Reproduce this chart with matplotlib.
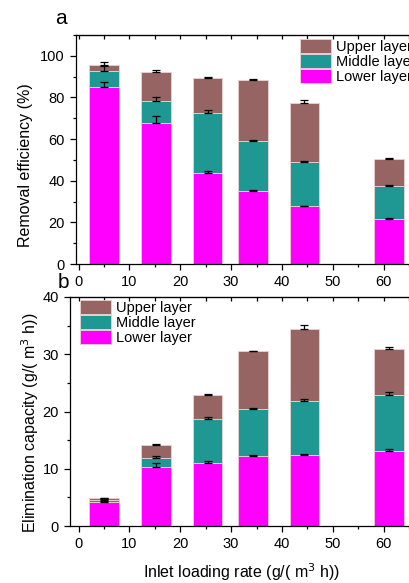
import numpy as np
import matplotlib
matplotlib.use("Agg")
import matplotlib.pyplot as plt
from matplotlib.ticker import MultipleLocator

plt.rcParams['font.family'] = ['Liberation Sans', 'DejaVu Sans']

# inlet loading rate, g/(m3 h)
loading = [5.0, 15.2, 25.4, 34.3, 44.4, 61.1]
layers = ["Upper layer", "Middle layer", "Lower layer"]

# removal efficiency contribution of each layer (%)
re_lower = [84.9, 67.9, 43.6, 35.3, 27.7, 21.5]
re_middle = [7.6, 10.5, 29.0, 23.7, 21.2, 16.0]
re_upper = [2.9, 13.9, 16.7, 29.5, 28.2, 13.1]
re_err_lower = [2.4, 3.3, 1.3, 0.3, 0.4, 0.5]
re_err_middle = [2.5, 1.7, 1.3, 0.4, 0.5, 0.5]
re_err_upper = [1.6, 0.7, 0.5, 0.2, 1.7, 0.4]

# elimination capacity contribution of each layer, g/(m3 h)
ec_lower = [4.14, 10.26, 11.08, 12.24, 12.36, 13.06]
ec_middle = [0.46, 1.69, 7.58, 8.11, 9.44, 9.84]
ec_upper = [0.24, 2.15, 4.24, 10.15, 12.54, 8.10]
ec_err_lower = [0.2, 0.7, 0.3, 0.15, 0.2, 0.35]
ec_err_middle = [0.2, 0.35, 0.3, 0.2, 0.3, 0.45]
ec_err_upper = [0.1, 0.15, 0.1, 0.05, 0.85, 0.25]

colors = {"Upper layer": "#956463", "Middle layer": "#1f9894", "Lower layer": "#ff00ff"}
W, H = 410, 583


def stacked(ax, lower, middle, upper, errs):
    x = np.array(loading)
    lower, middle, upper = map(np.array, (lower, middle, upper))
    handles = {}
    bottoms = [np.zeros_like(lower), lower, lower + middle]
    for name, vals, b in zip(["Lower layer", "Middle layer", "Upper layer"],
                             [lower, middle, upper], bottoms):
        handles[name] = ax.bar(x, vals, bottom=b, width=5.8, color=colors[name],
                               edgecolor="#ecd2d2", linewidth=0.6, label=name)
    for vals, b, e in zip([lower, middle, upper], bottoms, errs):
        e = np.array(e)
        ax.errorbar(x, vals + b, yerr=[np.zeros_like(e), e], fmt="none",
                    ecolor="black", elinewidth=0.9, capsize=2.6, capthick=0.9)
    return [handles[n] for n in layers]


def style(ax, ymax, ymajor, yminor):
    ax.set_ylim(0, ymax)
    ax.xaxis.set_major_locator(MultipleLocator(10))
    ax.xaxis.set_minor_locator(MultipleLocator(5))
    ax.yaxis.set_major_locator(MultipleLocator(ymajor))
    ax.yaxis.set_minor_locator(MultipleLocator(yminor))
    ax.tick_params(which="major", direction="out", length=4.5, width=0.9, labelsize=10.5)
    ax.tick_params(which="minor", direction="out", length=2.5, width=0.9)
    for s in ax.spines.values():
        s.set_linewidth(0.9)
    top = ax.secondary_xaxis("top")
    top.xaxis.set_major_locator(MultipleLocator(10))
    top.xaxis.set_minor_locator(MultipleLocator(5))
    top.tick_params(which="both", direction="in", length=3, width=0.9, labeltop=False)


fig = plt.figure(figsize=(W / 100, H / 100), dpi=100)

# panel a
ax1 = fig.add_axes([76 / W, 1 - 264 / H, 338 / W, 229 / H])
h = stacked(ax1, re_lower, re_middle, re_upper, [re_err_lower, re_err_middle, re_err_upper])
ax1.set_xlim(-0.53, 66.0)
style(ax1, 110, 20, 10)
ax1.set_ylabel("Removal efficiency (%)", fontsize=11.5)
ax1.yaxis.set_label_coords(-0.127, 0.43)
ax1.legend(h, layers, loc="upper left", bbox_to_anchor=((300 - 76) / 338, 1 - 4 / 229),
           frameon=False, fontsize=10.5, handlelength=2.15, handleheight=1.1,
           labelspacing=0.0, handletextpad=0.3, borderaxespad=0, borderpad=0)
fig.text(61 / W, 1 - 18 / H, "a", fontsize=15, ha="center", va="center")

# panel b
ax2 = fig.add_axes([70 / W, 1 - 526 / H, 344 / W, 229 / H])
h = stacked(ax2, ec_lower, ec_middle, ec_upper, [ec_err_lower, ec_err_middle, ec_err_upper])
ax2.set_xlim(-1.71, 66.0)
style(ax2, 40, 10, 5)
ax2.set_ylabel("Elimination capacity (g/( m$^3$ h))", fontsize=11.5)
ax2.yaxis.set_label_coords(-0.084, 0.45)
ax2.set_xlabel("Inlet loading rate (g/( m$^3$ h))", fontsize=11.5)
ax2.xaxis.set_label_coords(0.5, -0.155)
ax2.legend(h, layers, loc="upper left", bbox_to_anchor=((80 - 70) / 344, 1 - 3 / 229),
           frameon=False, fontsize=10.5, handlelength=2.15, handleheight=1.1,
           labelspacing=0.0, handletextpad=0.3, borderaxespad=0, borderpad=0)
fig.text(63 / W, 1 - 282 / H, "b", fontsize=15, ha="center", va="center")

fig.savefig("out.png", dpi=100)
